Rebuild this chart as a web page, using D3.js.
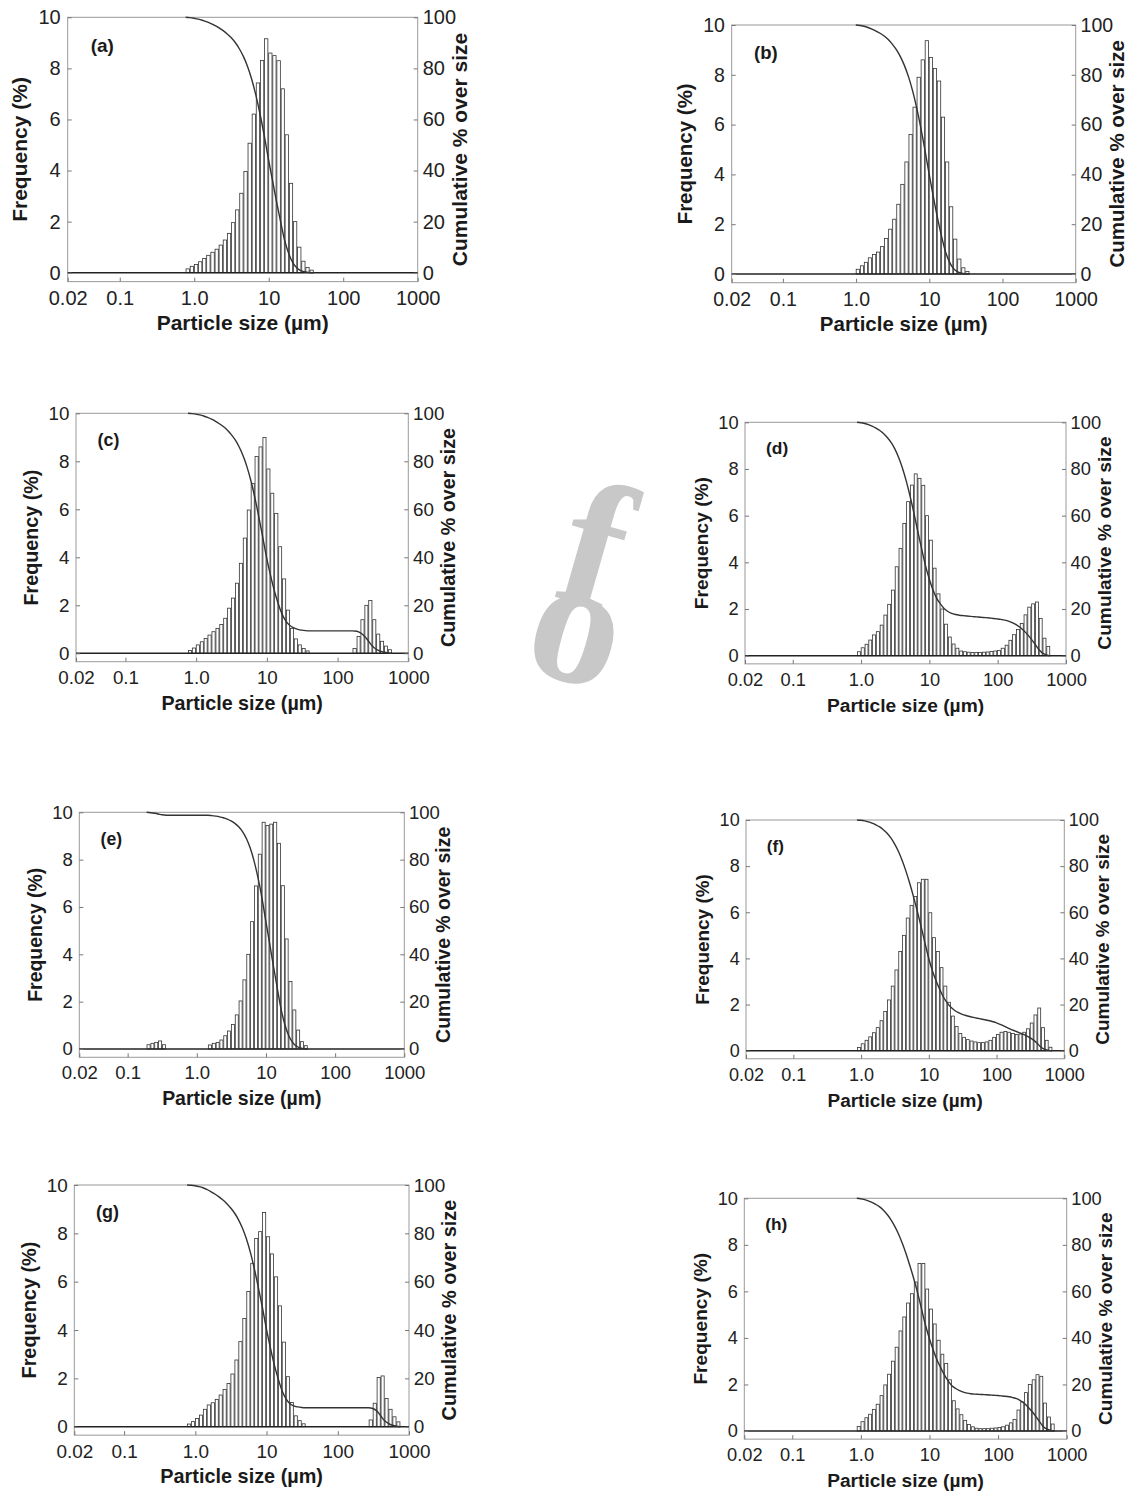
<!DOCTYPE html>
<html>
<head>
<meta charset="utf-8">
<script src="https://cdn.jsdelivr.net/npm/d3@7"></script>
<style>
  body { margin: 0; background: #fff; }
  svg { display: block; }
</style>
</head>
<body>
<svg id="chart" width="1134" height="1494"></svg>
<script>
// size class edges (um), 18 classes per decade
const sizeEdges = [0.166, 0.188, 0.214, 0.243, 0.276, 0.314, 0.357, 0.405, 0.460, 0.523,
  0.594, 0.675, 0.767, 0.872, 0.991, 1.13, 1.28, 1.45, 1.65, 1.88,
  2.13, 2.42, 2.75, 3.12, 3.55, 4.03, 4.58, 5.21, 5.92, 6.72,
  7.64, 8.68, 9.86, 11.2, 12.7, 14.5, 16.4, 18.7, 21.2, 24.1,
  27.4, 31.1, 35.3, 40.1, 45.6, 51.8, 58.9, 66.9, 76.0, 86.4,
  98.1, 111, 127, 144, 163, 186, 211, 240, 272, 310,
  352, 400, 454, 516, 586, 666, 756, 859, 976];

const xTicks = [0.02, 0.1, 1, 10, 100, 1000];
const xTickLabels = ["0.02", "0.1", "1.0", "10", "100", "1000"];
const freqTicks = [0, 2, 4, 6, 8, 10];
const cumTicks = [0, 20, 40, 60, 80, 100];
const panelNames = ["(a)", "(b)", "(c)", "(d)", "(e)", "(f)", "(g)", "(h)"];

// index into sizeEdges of the first bar of each panel
const firstBin = [12, 14, 12, 13, 1, 13, 12, 13];

// frequency (%) per size class
const freqA = [0.15, 0.25, 0.32, 0.43, 0.56, 0.68, 0.80, 0.92, 1.08, 1.28, 1.54, 1.96, 2.46, 3.11, 3.96,
  5.07, 6.21, 7.43, 8.31, 9.16, 8.6, 8.5, 8.3, 7.2, 5.4, 3.5, 2.0, 1.0, 0.45, 0.2, 0.1];
const freqB = [0.19, 0.33, 0.47, 0.65, 0.78, 0.88, 1.1, 1.43, 1.8, 2.2, 2.8, 3.6, 4.5, 5.6, 6.7, 7.9, 8.6,
  9.37, 8.7, 8.25, 7.75, 6.3, 4.5, 2.7, 1.4, 0.6, 0.25, 0.1];
const freqC = [0.12, 0.22, 0.35, 0.48, 0.62, 0.76, 0.9, 1.04, 1.2, 1.46, 1.88, 2.3, 2.92, 3.75, 4.8, 5.97,
  7.08, 8.2, 8.6, 8.99, 7.68, 6.67, 5.83, 4.44, 3.1, 1.8, 1.04, 0.6, 0.35, 0.2, 0.1,
  0, 0, 0, 0, 0, 0, 0, 0, 0, 0, 0,
  0.2, 0.7, 1.4, 2.0, 2.2, 1.4, 0.8, 0.5, 0.3, 0.15];
const freqD = [0.17, 0.34, 0.49, 0.67, 0.89, 1.03, 1.31, 1.74, 2.2, 2.81, 3.81, 4.6, 5.67, 6.6, 7.31,
  7.79, 7.6, 7.3, 6.0, 4.95, 3.75, 2.65, 2.0, 1.35, 0.8, 0.5, 0.32,
  0.2, 0.17, 0.15, 0.14, 0.14, 0.14, 0.15, 0.16, 0.18, 0.2,
  0.22, 0.32, 0.45, 0.66, 0.9, 1.12, 1.38, 1.75, 2.08, 2.22, 2.3, 1.6, 0.75, 0.4];
const freqE = [0.18, 0.24, 0.28, 0.34, 0.18,
  0, 0, 0, 0, 0, 0, 0, 0, 0, 0, 0,
  0.17, 0.24, 0.28, 0.38, 0.56, 0.76, 1.04, 1.44, 2.03, 2.92, 4.0, 5.38, 6.89, 8.23,
  9.58, 9.44, 9.5, 9.58, 8.69, 6.9, 4.65, 2.85, 1.65, 0.8, 0.31, 0.14];
const freqF = [0.14, 0.3, 0.45, 0.6, 0.78, 1.0, 1.3, 1.7, 2.2, 2.8, 3.5, 4.3, 5.0, 5.75, 6.3, 6.68, 7.28,
  7.43, 7.43, 5.98, 4.9, 4.3, 3.6, 2.8, 2.1, 1.5, 1.05, 0.75, 0.58, 0.48, 0.42, 0.38,
  0.35, 0.35, 0.38, 0.45, 0.58, 0.7, 0.8, 0.83, 0.8, 0.75, 0.7, 0.72, 0.8, 0.95, 1.2, 1.55, 1.85,
  1.0, 0.45, 0.15];
const freqG = [0.11, 0.21, 0.34, 0.48, 0.72, 0.9, 0.99, 1.13, 1.31, 1.54, 1.79, 2.18, 2.76, 3.52, 4.48,
  5.59, 6.76, 7.79, 8.07, 8.86, 7.86, 7.15, 6.2, 5.0, 3.5, 2.07, 1.0, 0.45, 0.25, 0.12,
  0, 0, 0, 0, 0, 0, 0, 0, 0, 0, 0, 0, 0, 0, 0, 0,
  0.28, 0.97, 2.04, 2.1, 1.17, 0.72, 0.41, 0.2];
const freqH = [0.19, 0.4, 0.57, 0.72, 0.93, 1.15, 1.52, 1.98, 2.44, 3.0, 3.6, 4.3, 4.9, 5.5, 5.9, 6.4,
  7.2, 7.2, 6.1, 5.24, 4.6, 3.9, 3.3, 2.9, 2.2, 1.3, 0.95, 0.7, 0.45, 0.28, 0.18, 0.12, 0.1, 0.1, 0.1,
  0.12, 0.13, 0.15, 0.18, 0.25, 0.35, 0.5, 0.9, 1.25, 1.65, 2.0, 2.2, 2.42, 2.35, 1.2, 0.6, 0.3];

const freqSeries = [freqA, freqB, freqC, freqD, freqE, freqF, freqG, freqH];

// plot frames on the page: left, right, top, and the y of frequency 0
const boxes = [
  {left: 67.7, right: 417.7, top: 17.3, zero: 272.7},
  {left: 731.7, right: 1075.7, top: 25, zero: 274},
  {left: 76, right: 408.3, top: 413.3, zero: 653.3},
  {left: 745, right: 1066, top: 422.3, zero: 655.7},
  {left: 79.3, right: 404.3, top: 812.3, zero: 1049},
  {left: 746, right: 1064.3, top: 820, zero: 1050.7},
  {left: 74.3, right: 409, top: 1185, zero: 1426.7},
  {left: 744.3, right: 1066.7, top: 1198.3, zero: 1431}
];

const sans = "'Liberation Sans', Arial, Helvetica, sans-serif";
const svg = d3.select("#chart");

// faint watermark behind the figures
const mark = svg.append("g")
    .attr("fill", "#c8c8c8")
    .style("font-family", "'Liberation Serif', 'Times New Roman', serif")
    .style("font-weight", "bold")
    .style("font-size", "180px");
mark.append("text")
    .attr("transform", "translate(574,640) rotate(16)")
    .attr("text-anchor", "middle").attr("dy", "0.23em").text("o");
mark.append("text")
    .attr("transform", "translate(596,545) rotate(16)")
    .attr("text-anchor", "middle").attr("dy", "0.34em").text("f");

function styleAxis(ax, fs) {
  ax.select(".domain").remove();
  ax.selectAll(".tick line").attr("stroke", "#777");
  ax.selectAll(".tick text")
      .attr("font-size", fs)
      .attr("font-family", sans)
      .attr("fill", "#222");
}

boxes.forEach(function(b, p) {
  // each sub-figure was pasted at its own scale; text follows it
  const k = (b.zero - b.top) / 255.4;
  const bottom = b.zero + (b.zero - b.top) * 0.035;
  const x = d3.scaleLog().domain([0.02, 1000]).range([b.left, b.right]);
  const y = d3.scaleLinear().domain([-0.35, 10]).range([bottom, b.top]);
  const yc = d3.scaleLinear().domain([-3.5, 100]).range([bottom, b.top]);

  const vals = freqSeries[p];
  const s = firstBin[p];
  const bins = vals.map(function(v, i) {
    return {lo: sizeEdges[s + i], hi: sizeEdges[s + i + 1], v: v};
  });

  const g = svg.append("g");

  g.append("rect")
      .attr("x", b.left).attr("y", b.top)
      .attr("width", b.right - b.left).attr("height", bottom - b.top)
      .attr("fill", "#fff")
      .attr("stroke", "#9a9a9a");

  g.selectAll("rect.bar")
    .data(bins.filter(function(d) { return d.v > 0; }))
    .join("rect")
      .attr("class", "bar")
      .attr("x", function(d) { return x(d.lo) + 0.4; })
      .attr("width", function(d) { return x(d.hi) - x(d.lo) - 0.8; })
      .attr("y", function(d) { return y(d.v); })
      .attr("height", function(d) { return y(0) - y(d.v); })
      .attr("fill", "#fff")
      .attr("stroke", "#333")
      .attr("stroke-width", 0.8);

  g.append("line")
      .attr("x1", b.left).attr("x2", b.right)
      .attr("y1", y(0)).attr("y2", y(0))
      .attr("stroke", "#222")
      .attr("stroke-width", 1.6);

  // cumulative % over size at each class edge
  const total = d3.sum(vals);
  let rest = total;
  const cum = [{size: sizeEdges[s], c: 100}];
  vals.forEach(function(v, i) {
    rest -= v;
    cum.push({size: sizeEdges[s + i + 1], c: Math.max(0, 100 * rest / total)});
  });

  g.append("path")
      .datum(cum)
      .attr("fill", "none")
      .attr("stroke", "#333")
      .attr("stroke-width", 1.4)
      .attr("d", d3.line()
        .x(function(d) { return x(d.size); })
        .y(function(d) { return yc(d.c); })
        .curve(d3.curveMonotoneX));

  const tickFs = 20 * k;

  const axL = g.append("g")
      .attr("transform", "translate(" + b.left + ",0)")
      .call(d3.axisLeft(y).tickValues(freqTicks).tickSizeInner(-4).tickSizeOuter(0).tickPadding(7 * k));
  styleAxis(axL, tickFs);

  const axR = g.append("g")
      .attr("transform", "translate(" + b.right + ",0)")
      .call(d3.axisRight(yc).tickValues(cumTicks).tickSizeInner(-4).tickSizeOuter(0).tickPadding(5 * k));
  styleAxis(axR, tickFs);

  const axB = g.append("g")
      .attr("transform", "translate(0," + bottom + ")")
      .call(d3.axisBottom(x).tickValues(xTicks)
        .tickFormat(function(d, i) { return xTickLabels[i]; })
        .tickSizeInner(-4).tickSizeOuter(0).tickPadding(9));
  styleAxis(axB, tickFs);

  const mid = (b.top + bottom) / 2;
  const titleFs = (21 * k) + "px";

  g.append("text")
      .attr("x", b.left + 23 * k)
      .attr("y", b.top + 35 * k)
      .style("font-family", sans)
      .style("font-weight", "bold")
      .style("font-size", (19 * k) + "px")
      .style("fill", "#1a1a1a")
      .text(panelNames[p]);

  g.append("text")
      .attr("transform", "translate(" + (b.left - 48 * k) + "," + mid + ") rotate(-90)")
      .attr("text-anchor", "middle")
      .attr("dy", "0.35em")
      .style("font-family", sans)
      .style("font-weight", "bold")
      .style("font-size", titleFs)
      .style("fill", "#1a1a1a")
      .text("Frequency (%)");

  g.append("text")
      .attr("transform", "translate(" + (b.right + 42 * k) + "," + mid + ") rotate(-90)")
      .attr("text-anchor", "middle")
      .attr("dy", "0.35em")
      .style("font-family", sans)
      .style("font-weight", "bold")
      .style("font-size", titleFs)
      .style("fill", "#1a1a1a")
      .text("Cumulative % over size");

  g.append("text")
      .attr("x", (b.left + b.right) / 2)
      .attr("y", bottom + 48)
      .attr("text-anchor", "middle")
      .style("font-family", sans)
      .style("font-weight", "bold")
      .style("font-size", titleFs)
      .style("fill", "#1a1a1a")
      .text("Particle size (\u00b5m)");
});
</script>
</body>
</html>
